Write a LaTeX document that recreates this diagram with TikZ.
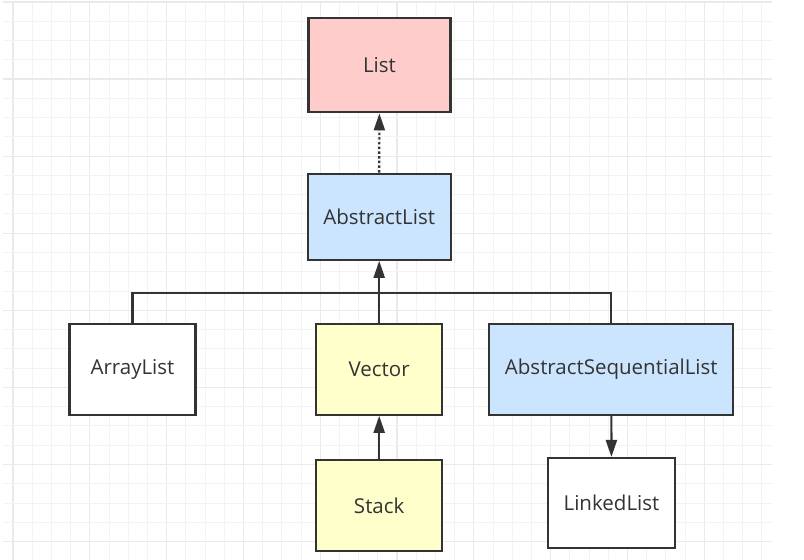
\documentclass[tikz,border=0pt]{standalone}
\usepackage{fontspec}
\setmainfont{Open Sans}
\usetikzlibrary{arrows.meta}
\definecolor{ink}{HTML}{333333}
\definecolor{gridminor}{HTML}{F3F3F3}
\definecolor{gridmajor}{HTML}{EAEAEA}
\definecolor{pink}{HTML}{FFCCCC}
\definecolor{lightblue}{HTML}{CCE5FF}
\definecolor{lightyellow}{HTML}{FFFFCC}
\begin{document}
\begin{tikzpicture}[x=1pt, y=-1pt,
    box/.style={rectangle, draw=ink, line width=2.2pt, text=ink,
      font=\fontsize{20.5}{24}\selectfont, inner sep=0pt},
    link/.style={draw=ink, line width=2.2pt,
      -{Triangle[length=17pt, width=11pt]}}]
      \useasboundingbox (0,0) rectangle (804,560);
      \fill[white] (0,0) rectangle (804,560);

      % grid
      \foreach \k in {0,...,39} {
        \pgfmathsetmacro{\gx}{13 + \k*19.2}
        \pgfmathtruncatemacro{\km}{mod(\k,4)}
        \ifnum\km=0
          \draw[gridmajor, line width=1.2pt] (\gx,2) -- (\gx,560);
        \else
          \draw[gridminor, line width=1pt] (\gx,2) -- (\gx,560);
        \fi
      }
      \foreach \k in {0,...,28} {
        \pgfmathsetmacro{\gy}{2 + \k*19.27}
        \pgfmathtruncatemacro{\km}{mod(\k,4)}
        \ifnum\km=0
          \draw[gridmajor, line width=1.2pt] (3,\gy) -- (772,\gy);
        \else
          \draw[gridminor, line width=1pt] (3,\gy) -- (772,\gy);
        \fi
      }

      \node[box, fill=pink, minimum width=142, minimum height=94] (L) at (379.5,65.3) {List};
      \node[box, fill=lightblue, minimum width=143, minimum height=86] (AL) at (379.2,216.7) {AbstractList};

      \foreach \x\y\t\c in {132.5/ARL/ArrayList/white, 379.2/V/Vector/lightyellow} {
        \node[box, fill=\c, minimum width=126, minimum height=91] (\y) at (\x,369.2) {\t};
      }
      \node[box, fill=lightblue, minimum width=244, minimum height=91] (ASL) at (611.3,369.2) {AbstractSequentialList};

      \node[box, fill=lightyellow, minimum width=126, minimum height=90.4] (S) at (379.2,505.5) {Stack};
      \node[box, fill=white, minimum width=127, minimum height=90.3] (LL) at (611.5,503.2) {LinkedList};

      \coordinate (bus) at (379.2,292.7);

      \draw[link, dash pattern=on 2.5pt off 2.2pt] (AL) -- (L);
      \draw[draw=ink, line width=2.2pt] (ARL.north) |- (bus) -| (ASL.north);
      \draw[link] (V) -- (AL);
      \draw[link] (S) -- (V);
      \draw[link] (ASL) -- (LL);
    \end{tikzpicture}
\end{document}
